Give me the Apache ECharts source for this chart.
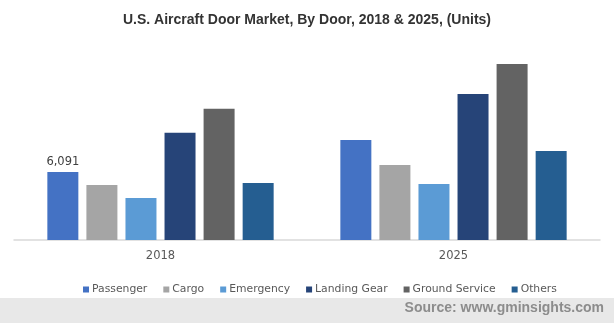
<!DOCTYPE html>
<html>
<head>
<meta charset="utf-8">
<style>
  html, body { margin: 0; padding: 0; background: #ffffff; }
  #chart { width: 614px; height: 323px; }
</style>
<script src="https://cdn.jsdelivr.net/npm/echarts@6/dist/echarts.min.js"></script>
</head>
<body>
<div id="chart"></div>
<script>
// Door market volumes by door type (units)
const years = ['2018', '2025'];
const passenger     = [6091, 8960];
const cargo         = [4930, 6720];
const emergency     = [3760, 5020];
const landingGear   = [9600, 13080];
const groundService = [11750, 15770];
const others        = [5110, 7970];

const seriesNames  = ['Passenger', 'Cargo', 'Emergency', 'Landing Gear', 'Ground Service', 'Others'];
const seriesValues = [passenger, cargo, emergency, landingGear, groundService, others];
const seriesColors = ['#4472c4', '#a5a5a5', '#5b9bd5', '#264478', '#636363', '#255e91'];

const chart = echarts.init(document.getElementById('chart'), null, { renderer: 'canvas' });

const series = seriesNames.map((name, i) => ({
  name: name,
  type: 'bar',
  data: seriesValues[i].map((v, j) => {
    // only the 2018 passenger bar carries a value label
    if (i === 0 && j === 0) {
      return {
        value: v,
        label: {
          show: true,
          position: 'top',
          distance: 4,
          formatter: (p) => p.value.toLocaleString('en-US'),
          color: '#404040',
          fontFamily: 'DejaVu Sans',
          fontSize: 11.5
        }
      };
    }
    return v;
  }),
  itemStyle: { color: seriesColors[i] },
  barWidth: 31,
  barGap: '26%',
  animation: false
}));

chart.setOption({
  animation: false,
  title: {
    text: 'U.S. Aircraft Door Market, By Door, 2018 & 2025, (Units)',
    left: 'center',
    top: 8,
    textStyle: {
      fontFamily: 'Liberation Sans',
      fontWeight: 'bold',
      fontSize: 14,
      color: '#333333'
    }
  },
  legend: {
    data: seriesNames,
    left: 78,
    top: 279,
    icon: 'rect',
    itemWidth: 6,
    itemHeight: 6,
    itemGap: 16,
    textStyle: {
      fontFamily: 'DejaVu Sans',
      fontSize: 10.8,
      color: '#595959',
      padding: [0, 0, 0, -2]
    }
  },
  grid: {
    left: 14,
    right: 14,
    top: 39,
    bottom: 83,
    containLabel: false
  },
  xAxis: {
    type: 'category',
    data: years,
    axisLine: { lineStyle: { color: '#d9d9d9', width: 1.5 } },
    axisTick: { show: false },
    axisLabel: {
      margin: 10,
      color: '#595959',
      fontFamily: 'DejaVu Sans',
      fontSize: 11.5
    }
  },
  yAxis: {
    type: 'value',
    min: 0,
    max: 18000,
    show: false,
    splitLine: { show: false }
  },
  series: series,
  graphic: [
    {
      type: 'rect',
      left: 0,
      top: 298,
      shape: { width: 614, height: 25 },
      style: { fill: '#e8e8e8' },
      z: -1
    },
    {
      type: 'text',
      right: 10,
      top: 301,
      style: {
        text: 'Source: www.gminsights.com',
        fill: '#8c8c8c',
        font: 'bold 14px "Liberation Sans", Arial, sans-serif'
      }
    }
  ]
});
</script>
</body>
</html>
